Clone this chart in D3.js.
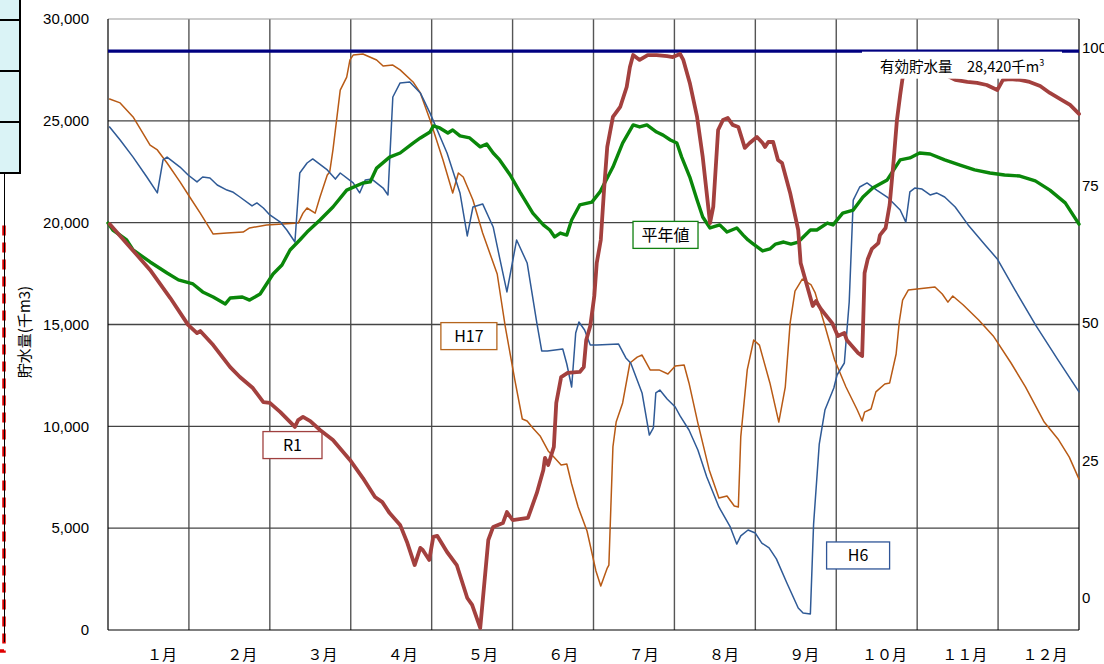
<!DOCTYPE html>
<html><head><meta charset="utf-8">
<script src="https://cdn.jsdelivr.net/npm/d3@7/dist/d3.min.js"></script>
<style>
html,body{margin:0;padding:0;background:#fff;}
svg{display:block;}
text{font-family:"Liberation Sans",Arial,sans-serif;}
.cjk{font-family:"Noto Sans CJK JP","Noto Sans",sans-serif;}
</style></head>
<body>
<svg id="chart" width="1104" height="664"></svg>
<script>
// ---- data (x = months elapsed since Jan 1, value = 千m3) ----
const months = ["１月","２月","３月","４月","５月","６月","７月","８月","９月","１０月","１１月","１２月"];
const yTicks = [0,5000,10000,15000,20000,25000,30000];
const pctTicks = [0,25,50,75,100];
const capacity = 28420;
const capacityLabel = "有効貯水量　28,420千m";

const seriesR1 = [[0.02,19930],[0.27,18810],[0.52,17680],[0.77,16300],[0.99,14980],[1.10,14580],[1.14,14680],[1.30,13990],[1.51,12910],[1.63,12420],[1.79,11880],[1.92,11190],[2.00,11150],[2.13,10700],[2.31,9970],[2.35,10310],[2.41,10460],[2.50,10260],[2.62,9820],[2.78,9330],[2.99,8350],[3.15,7460],[3.30,6530],[3.39,6280],[3.48,5740],[3.61,5160],[3.70,4270],[3.79,3190],[3.86,4030],[3.89,3930],[3.97,3440],[4.02,4570],[4.07,4620],[4.19,3830],[4.31,3190],[4.44,1570],[4.50,1230],[4.60,100],[4.70,4420],[4.76,5060],[4.88,5250],[4.93,5790],[5.00,5400],[5.19,5500],[5.30,6730],[5.38,7860],[5.40,8450],[5.44,8100],[5.51,8990],[5.54,11150],[5.60,12420],[5.68,12620],[5.83,12670],[5.88,12910],[5.91,14240],[5.96,14930],[6.01,16400],[6.04,18020],[6.09,19150],[6.13,21600],[6.17,23720],[6.24,25190],[6.33,25680],[6.41,26660],[6.45,27640],[6.49,28230],[6.57,27990],[6.67,28230],[6.78,28230],[6.91,28180],[6.98,28130],[7.07,28280],[7.11,27990],[7.19,26860],[7.28,25190],[7.35,23220],[7.44,19980],[7.48,20770],[7.54,24550],[7.60,25040],[7.66,25140],[7.72,24800],[7.79,24700],[7.87,23670],[7.93,23910],[8.02,24210],[8.09,23910],[8.12,23720],[8.16,23960],[8.22,23960],[8.28,23080],[8.33,22930],[8.43,21460],[8.53,19640],[8.56,18020],[8.71,15910],[8.75,16150],[8.81,15760],[8.95,15070],[9.02,14440],[9.10,14580],[9.13,14240],[9.27,13600],[9.32,13450],[9.33,14730],[9.35,17530],[9.39,18220],[9.44,18710],[9.52,19000],[9.54,19390],[9.61,19740],[9.66,20870],[9.71,23080],[9.75,25040],[9.79,26270],[9.82,27100],[9.88,27500],[10.03,27590],[10.28,27400],[10.47,27010],[10.62,26910],[10.74,26860],[10.86,26760],[10.99,26510],[11.06,27010],[11.15,27050],[11.27,27010],[11.39,26910],[11.52,26710],[11.64,26370],[11.79,26020],[11.89,25780],[12.0,25340]];

const seriesNormal = [[0,19980],[0.06,19640],[0.23,19150],[0.31,18660],[0.52,18070],[0.73,17530],[0.87,17190],[1.05,16990],[1.17,16600],[1.30,16350],[1.45,16010],[1.51,16300],[1.66,16350],[1.75,16200],[1.88,16500],[1.96,16990],[2.04,17480],[2.15,17920],[2.25,18660],[2.37,19150],[2.46,19540],[2.62,20130],[2.78,20770],[2.95,21600],[3.15,21950],[3.24,22000],[3.32,22680],[3.48,23220],[3.61,23420],[3.77,23910],[3.86,24160],[3.98,24450],[4.02,24750],[4.10,24650],[4.20,24400],[4.26,24550],[4.35,24260],[4.47,24160],[4.60,23720],[4.68,23860],[4.76,23420],[4.84,23080],[4.97,22340],[5.09,21510],[5.25,20470],[5.38,19890],[5.46,19640],[5.52,19300],[5.59,19490],[5.67,19390],[5.73,20130],[5.83,20870],[5.98,21010],[6.08,21510],[6.24,22730],[6.36,23910],[6.49,24800],[6.57,24700],[6.66,24800],[6.78,24450],[6.86,24300],[6.95,24060],[7.03,23910],[7.09,23220],[7.19,22240],[7.28,21110],[7.35,20280],[7.44,19740],[7.56,19890],[7.65,19540],[7.77,19740],[7.85,19390],[7.91,19150],[7.96,19000],[8.09,18610],[8.18,18710],[8.25,18950],[8.35,19050],[8.44,18950],[8.53,19050],[8.68,19640],[8.76,19640],[8.89,19980],[8.96,19890],[9.08,20470],[9.21,20620],[9.33,21260],[9.45,21700],[9.63,22100],[9.79,23080],[9.91,23180],[10.03,23420],[10.16,23370],[10.34,23080],[10.53,22830],[10.71,22590],[10.90,22440],[11.08,22340],[11.27,22290],[11.46,22050],[11.64,21600],[11.83,20970],[12.0,19930]];

const seriesH6 = [[0.02,24700],[0.15,24060],[0.31,23220],[0.48,22240],[0.61,21460],[0.68,23080],[0.73,23220],[0.89,22730],[0.99,22340],[1.10,22000],[1.17,22240],[1.26,22190],[1.35,21850],[1.47,21600],[1.54,21510],[1.63,21260],[1.78,20820],[1.84,20970],[1.92,20720],[2.00,20380],[2.13,20030],[2.21,19640],[2.31,19050],[2.37,22440],[2.46,22930],[2.53,23130],[2.71,22590],[2.81,22140],[2.87,22440],[3.03,21950],[3.11,21460],[3.18,22100],[3.26,22140],[3.40,21700],[3.46,21360],[3.52,26170],[3.61,26860],[3.73,26910],[3.86,26370],[3.98,25380],[4.19,23420],[4.35,21460],[4.44,19350],[4.51,20770],[4.63,20920],[4.76,19790],[4.84,18270],[4.93,16600],[5.05,19150],[5.18,18020],[5.30,15070],[5.36,13700],[5.43,13700],[5.62,13800],[5.67,13060],[5.73,11930],[5.78,14580],[5.82,15120],[5.89,14730],[5.96,13990],[6.04,13990],[6.31,14040],[6.40,13360],[6.46,13110],[6.60,11640],[6.69,9570],[6.74,9920],[6.77,11640],[6.82,11780],[6.91,11340],[7.01,10950],[7.07,10510],[7.18,9820],[7.29,8840],[7.40,7510],[7.55,6040],[7.69,5060],[7.77,4220],[7.82,4620],[7.91,4910],[8.00,4760],[8.08,4270],[8.17,4030],[8.26,3490],[8.39,2310],[8.53,1080],[8.59,830],[8.68,790],[8.72,5200],[8.79,9130],[8.86,10800],[8.92,11390],[8.97,11880],[9.01,12520],[9.10,13110],[9.16,16100],[9.21,21110],[9.29,21750],[9.38,21950],[9.50,21600],[9.63,21260],[9.79,20620],[9.86,20030],[9.91,21510],[9.97,21700],[10.06,21650],[10.16,21360],[10.24,21460],[10.34,21260],[10.47,20770],[10.63,19890],[10.84,18900],[10.99,18220],[11.21,16690],[11.47,14930],[11.74,13260],[12.0,11690]];

const seriesH17 = [[0.02,26070],[0.15,25880],[0.31,25190],[0.52,23810],[0.61,23570],[0.73,22930],[0.89,22000],[1.01,21260],[1.14,20470],[1.30,19440],[1.47,19490],[1.67,19540],[1.75,19740],[1.96,19890],[2.16,19930],[2.35,19980],[2.41,20470],[2.46,20720],[2.56,20470],[2.62,21260],[2.71,22340],[2.74,22490],[2.78,23570],[2.87,26510],[2.95,27150],[2.99,27990],[3.03,28230],[3.15,28280],[3.32,27990],[3.40,27690],[3.52,27740],[3.61,27500],[3.77,26910],[3.86,26370],[3.98,25040],[4.14,23080],[4.26,21460],[4.33,22440],[4.39,22240],[4.51,21110],[4.63,19490],[4.81,17480],[4.91,14880],[5.03,12230],[5.12,10360],[5.18,10260],[5.25,9920],[5.34,9530],[5.44,8790],[5.51,8490],[5.60,8100],[5.67,8150],[5.73,7170],[5.81,6040],[5.92,4860],[6.03,2900],[6.09,2160],[6.17,3040],[6.19,3190],[6.24,8990],[6.28,10210],[6.36,11150],[6.45,13110],[6.54,13400],[6.60,13500],[6.70,12770],[6.81,12770],[6.92,12570],[7.01,12960],[7.12,13010],[7.18,12130],[7.29,10160],[7.43,7860],[7.55,6480],[7.65,6580],[7.74,6090],[7.79,6040],[7.82,9480],[7.90,12770],[7.98,14240],[8.05,13990],[8.18,12130],[8.29,10210],[8.37,11930],[8.43,15070],[8.49,16640],[8.58,17230],[8.69,16940],[8.74,16550],[8.85,15070],[8.98,13260],[9.12,11930],[9.26,10800],[9.32,10260],[9.35,10700],[9.43,10850],[9.49,11690],[9.60,12080],[9.66,12130],[9.74,13550],[9.78,15170],[9.82,16200],[9.89,16690],[10.00,16740],[10.22,16840],[10.31,16500],[10.38,16100],[10.44,16400],[10.57,15960],[10.76,15220],[10.94,14440],[11.16,13110],[11.34,11930],[11.57,10210],[11.74,9380],[11.88,8490],[12.0,7410]];

// series label boxes: [text, month, value, colour]
const seriesLabels = [["H17",4.46,14430,"#b5651d"],["R1",2.28,9080,"#a0403f"],["平年値",6.89,19400,"#108010"],["H6",9.27,3660,"#2f5597"]];

// ---- layout ----
const svg = d3.select("#chart");
const L = 108, R = 1079, T = 19, B = 630;
const x = d3.scaleLinear().domain([0,12]).range([L,R]);
const y = d3.scaleLinear().domain([0,30000]).range([B,T]);
const pct = d3.scaleLinear().domain([0,100]).range([598,48]);
const monthPos = d3.scalePoint().domain(months).range([162,1045]);

// left decorations (table fragment & dashed frame)
const deco = svg.append("g");
deco.append("rect").attr("x",-2).attr("y",-2).attr("width",22).attr("height",176).attr("fill","#daf3f6");
[20,71,122,173].forEach(v=>deco.append("line").attr("x1",-2).attr("x2",21).attr("y1",v).attr("y2",v).attr("stroke","#000").attr("stroke-width",2));
deco.append("line").attr("x1",20).attr("x2",20).attr("y1",0).attr("y2",174).attr("stroke","#000").attr("stroke-width",2);
deco.append("path").attr("d","M-10,222.5H4V651H-10").attr("fill","none").attr("stroke","#e00000").attr("stroke-width",3.5).attr("stroke-dasharray","10,7");
deco.append("line").attr("x1",4.5).attr("x2",4.5).attr("y1",174).attr("y2",642).attr("stroke","#000").attr("stroke-width",1);

// grid
const grid = svg.append("g");
d3.range(1,12).forEach(m=>grid.append("line").attr("x1",x(m)).attr("x2",x(m)).attr("y1",T).attr("y2",B).attr("stroke","#555").attr("stroke-width",1.4));
yTicks.filter(v=>v>0&&v<30000).forEach(v=>grid.append("line").attr("x1",L).attr("x2",R).attr("y1",y(v)).attr("y2",y(v)).attr("stroke","#444").attr("stroke-width",1.4));
grid.append("line").attr("x1",L).attr("x2",R).attr("y1",T).attr("y2",T).attr("stroke","#999").attr("stroke-width",1.2);
grid.append("line").attr("x1",L).attr("x2",L).attr("y1",T).attr("y2",B).attr("stroke","#000").attr("stroke-width",1.2);
grid.append("line").attr("x1",R).attr("x2",R).attr("y1",T).attr("y2",B).attr("stroke","#000").attr("stroke-width",1.2);
grid.append("line").attr("x1",L).attr("x2",R).attr("y1",B).attr("y2",B).attr("stroke","#000").attr("stroke-width",1.2);

// left axis labels
const ax = svg.append("g").attr("transform",`translate(${L},0)`)
  .call(d3.axisLeft(y).tickValues(yTicks).tickSize(0).tickPadding(19).tickFormat(d3.format(",")));
ax.select(".domain").remove();
ax.selectAll("text").attr("font-size",15).attr("fill","#000").attr("font-family","'Liberation Sans',Arial,sans-serif");

// right percentage labels
const axr = svg.append("g").attr("transform",`translate(${R},0)`)
  .call(d3.axisRight(pct).tickValues(pctTicks).tickSize(0).tickPadding(3));
axr.select(".domain").remove();
axr.selectAll("text").attr("font-size",15).attr("fill","#000").attr("font-family","'Liberation Sans',Arial,sans-serif");

// month labels
svg.append("g").selectAll("text").data(months).join("text")
  .attr("class","cjk").attr("x",d=>monthPos(d)).attr("y",660).attr("text-anchor","middle")
  .attr("font-size",15).attr("fill","#000").text(d=>d);

// y axis title
svg.append("text").attr("class","cjk").attr("transform","translate(30,332) rotate(-90)")
  .attr("text-anchor","middle").attr("font-size",15).attr("fill","#000").text("貯水量(千m3)");

// label boxes
const lb = svg.append("g");
const boxW = {"H17":56,"R1":59,"平年値":65,"H6":63};
seriesLabels.forEach(([t,m,v,c])=>{
  const w = boxW[t], h = 27;
  const cx = x(m), cy = y(v);
  lb.append("rect").attr("x",cx-w/2).attr("y",cy-h/2).attr("width",w).attr("height",h)
    .attr("fill","#fff").attr("stroke",c).attr("stroke-width",1.3);
  lb.append("text").attr("class","cjk").attr("x",cx).attr("y",cy+6).attr("text-anchor","middle")
    .attr("font-size",16).attr("fill","#000").text(t);
});

// capacity line
svg.append("line").attr("x1",L).attr("x2",R).attr("y1",y(capacity)).attr("y2",y(capacity))
  .attr("stroke","#000080").attr("stroke-width",3.2);

// series lines
const line = d3.line().x(d=>x(d[0])).y(d=>y(d[1]));
const lines = svg.append("g").attr("fill","none").attr("stroke-linejoin","round").attr("stroke-linecap","round");
lines.append("path").datum(seriesH17).attr("d",line).attr("stroke","#b85a15").attr("stroke-width",1.5);
lines.append("path").datum(seriesH6).attr("d",line).attr("stroke","#2f5a96").attr("stroke-width",1.5);
lines.append("path").datum(seriesNormal).attr("d",line).attr("stroke","#0a870a").attr("stroke-width",3.4);
lines.append("path").datum(seriesR1).attr("d",line).attr("stroke","#a3403e").attr("stroke-width",3.8);

// capacity label with white background
const cap = svg.append("g");
cap.append("rect").attr("x",862).attr("y",y(capacity)+0.5).attr("width",200).attr("height",27).attr("fill","#fff");
const ct = cap.append("text").attr("class","cjk").attr("x",880).attr("y",72).attr("font-size",14.5).attr("fill","#000");
ct.append("tspan").text(capacityLabel);
ct.append("tspan").attr("dy",-6).attr("font-size",9).text("3");
</script>
</body></html>
